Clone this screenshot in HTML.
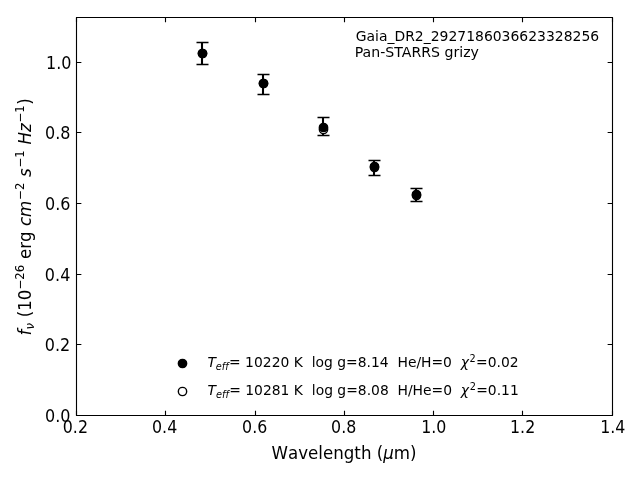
<!DOCTYPE html>
<html><head><meta charset="utf-8"><title>SED plot</title>
<style>svg{will-change:transform}html,body{margin:0;padding:0;background:#fff;width:640px;height:480px;overflow:hidden}</style>
</head><body>
<svg width="640" height="480" viewBox="0 0 640 480" style="display:block">
<rect width="640" height="480" fill="#fff"/>
<path d="M76.5 17.5V415.5M612.5 17.5V415.5M76.5 17.5H612.5M76.5 415.5H612.5" fill="none" stroke="#000" stroke-width="1.1111" stroke-linecap="square"/>
<path d="M76.5 415.5V410.6389M76.5 17.5V22.3611M165.5 415.5V410.6389M165.5 17.5V22.3611M255.5 415.5V410.6389M255.5 17.5V22.3611M344.5 415.5V410.6389M344.5 17.5V22.3611M433.5 415.5V410.6389M433.5 17.5V22.3611M522.5 415.5V410.6389M522.5 17.5V22.3611M612.5 415.5V410.6389M612.5 17.5V22.3611M76.5 415.5H81.3611M612.5 415.5H607.6389M76.5 344.5H81.3611M612.5 344.5H607.6389M76.5 274.5H81.3611M612.5 274.5H607.6389M76.5 203.5H81.3611M612.5 203.5H607.6389M76.5 132.5H81.3611M612.5 132.5H607.6389M76.5 62.5H81.3611M612.5 62.5H607.6389" fill="none" stroke="#000" stroke-width="1.1111"/>
<path d="M202 42.5V64.5M263 74.5V94.5M323 117.5V135.5M374 160.5V175.5M416 188.5V201.5" fill="none" stroke="#000" stroke-width="2.0833"/>
<path d="M196.5 42.5H208.5M196.5 64.5H208.5M257.5 74.5H269.5M257.5 94.5H269.5M317.5 117.5H329.5M317.5 135.5H329.5M368.5 160.5H380.5M368.5 175.5H380.5M410.5 188.5H422.5M410.5 201.5H422.5" fill="none" stroke="#000" stroke-width="1.3889"/>
<circle cx="202.5" cy="53.5" r="4.1667" fill="#fff" stroke="#000" stroke-width="1.3889"/>
<circle cx="263.5" cy="83.5" r="4.1667" fill="#fff" stroke="#000" stroke-width="1.3889"/>
<circle cx="323.5" cy="129.5" r="4.1667" fill="#fff" stroke="#000" stroke-width="1.3889"/>
<circle cx="374.5" cy="167.5" r="4.1667" fill="#fff" stroke="#000" stroke-width="1.3889"/>
<circle cx="416.5" cy="195.5" r="4.1667" fill="#fff" stroke="#000" stroke-width="1.3889"/>
<circle cx="202.5" cy="53.5" r="4.1667" fill="#000" stroke="#000" stroke-width="1.3889"/>
<circle cx="263.5" cy="83.5" r="4.1667" fill="#000" stroke="#000" stroke-width="1.3889"/>
<circle cx="323.5" cy="127.5" r="4.1667" fill="#000" stroke="#000" stroke-width="1.3889"/>
<circle cx="374.5" cy="166.5" r="4.1667" fill="#000" stroke="#000" stroke-width="1.3889"/>
<circle cx="416.5" cy="194.5" r="4.1667" fill="#000" stroke="#000" stroke-width="1.3889"/>
<circle cx="182.5" cy="363.5" r="4.1667" fill="#000" stroke="#000" stroke-width="1.3889"/>
<circle cx="182.5" cy="391.5" r="4.1667" fill="#fff" stroke="#000" stroke-width="1.3889"/>
<g transform="scale(1.3888889)">
<g transform="translate(0.0000 0.0000)">
<text style="font-size: 12px; font-family: 'DejaVu Sans', 'Liberation Sans', sans-serif; text-anchor: middle" x="54.642" y="311.118125" transform="translate(54.2734 311.6423) scale(0.9500 1.0700) translate(-54.6420 -311.1181)">0.2</text>
</g>

<g transform="translate(0.0000 0.0000)">
<text style="font-size: 12px; font-family: 'DejaVu Sans', 'Liberation Sans', sans-serif; text-anchor: middle" x="118.9525" y="311.118125" transform="translate(118.5205 311.7056) scale(0.9500 1.0700) translate(-118.9525 -311.1181)">0.4</text>
</g>

<g transform="translate(0.0000 0.0000)">
<text style="font-size: 12px; font-family: 'DejaVu Sans', 'Liberation Sans', sans-serif; text-anchor: middle" x="183.263" y="311.118125" transform="translate(183.3955 311.7632) scale(0.9500 1.0700) translate(-183.2630 -311.1181)">0.6</text>
</g>

<g transform="translate(0.0000 0.0000)">
<text style="font-size: 12px; font-family: 'DejaVu Sans', 'Liberation Sans', sans-serif; text-anchor: middle" x="247.5735" y="311.118125" transform="translate(247.4410 311.7172) scale(0.9500 1.0700) translate(-247.5735 -311.1181)">0.8</text>
</g>

<g transform="translate(0.0000 0.0000)">
<text style="font-size: 12px; font-family: 'DejaVu Sans', 'Liberation Sans', sans-serif; text-anchor: middle" x="311.884" y="311.118125" transform="translate(312.2987 311.6826) scale(0.9500 1.0700) translate(-311.8840 -311.1181)">1.0</text>
</g>

<g transform="translate(0.0000 0.0000)">
<text style="font-size: 12px; font-family: 'DejaVu Sans', 'Liberation Sans', sans-serif; text-anchor: middle" x="376.1945" y="311.118125" transform="translate(376.3039 311.6480) scale(0.9500 1.0700) translate(-376.1945 -311.1181)">1.2</text>
</g>

<g transform="translate(0.0000 0.0000)">
<text style="font-size: 12px; font-family: 'DejaVu Sans', 'Liberation Sans', sans-serif; text-anchor: middle" x="440.505" y="311.118125" transform="translate(441.1616 311.6308) scale(0.9500 1.0700) translate(-440.5050 -311.1181)">1.4</text>
</g>

<g transform="translate(0.1800 4.5072)">
<g transform="translate(195.3135 326.73375) scale(1.0000 1.0600)">
<text>
<tspan x="0" y="-0.875" style="font-size: 12px; font-family: 'DejaVu Sans', 'Liberation Sans', sans-serif">W</tspan>
<tspan x="11.865234" y="-0.875" style="font-size: 12px; font-family: 'DejaVu Sans', 'Liberation Sans', sans-serif">a</tspan>
<tspan x="19.21875" y="-0.875" style="font-size: 12px; font-family: 'DejaVu Sans', 'Liberation Sans', sans-serif">v</tspan>
<tspan x="26.320312" y="-0.875" style="font-size: 12px; font-family: 'DejaVu Sans', 'Liberation Sans', sans-serif">e</tspan>
<tspan x="33.703125" y="-0.875" style="font-size: 12px; font-family: 'DejaVu Sans', 'Liberation Sans', sans-serif">l</tspan>
<tspan x="37.037109" y="-0.875" style="font-size: 12px; font-family: 'DejaVu Sans', 'Liberation Sans', sans-serif">e</tspan>
<tspan x="44.419922" y="-0.875" style="font-size: 12px; font-family: 'DejaVu Sans', 'Liberation Sans', sans-serif">n</tspan>
<tspan x="52.025391" y="-0.875" style="font-size: 12px; font-family: 'DejaVu Sans', 'Liberation Sans', sans-serif">g</tspan>
<tspan x="59.642578" y="-0.875" style="font-size: 12px; font-family: 'DejaVu Sans', 'Liberation Sans', sans-serif">t</tspan>
<tspan x="64.347656" y="-0.875" style="font-size: 12px; font-family: 'DejaVu Sans', 'Liberation Sans', sans-serif">h</tspan>
<tspan x="71.953125" y="-0.875" style="font-size: 12px; font-family: 'DejaVu Sans', 'Liberation Sans', sans-serif"> </tspan>
<tspan x="75.767578" y="-0.875" style="font-size: 12px; font-family: 'DejaVu Sans', 'Liberation Sans', sans-serif">(</tspan>
<tspan x="88.083984" y="-0.875" style="font-size: 12px; font-family: 'DejaVu Sans', 'Liberation Sans', sans-serif">m</tspan>
<tspan x="99.773438" y="-0.875" style="font-size: 12px; font-family: 'DejaVu Sans', 'Liberation Sans', sans-serif">)</tspan>
<tspan x="80.449219" y="-0.875" style="font-style: oblique; font-size: 12px; font-family: 'DejaVu Sans', 'Liberation Sans', sans-serif">μ</tspan>
</text>
</g>
</g>

<g transform="translate(0.0000 0.0000)">
<text style="font-size: 12px; font-family: 'DejaVu Sans', 'Liberation Sans', sans-serif; text-anchor: end" x="51.142" y="303.059062" transform="translate(50.7935 303.5602) scale(0.9600 1.0700) translate(-51.1420 -303.0591)">0.0</text>
</g>

<g transform="translate(0.0000 0.0000)">
<text style="font-size: 12px; font-family: 'DejaVu Sans', 'Liberation Sans', sans-serif; text-anchor: end" x="51.142" y="252.281256" transform="translate(50.5228 252.7133) scale(0.9600 1.0700) translate(-51.1420 -252.2813)">0.2</text>
</g>

<g transform="translate(0.0000 0.0000)">
<text style="font-size: 12px; font-family: 'DejaVu Sans', 'Liberation Sans', sans-serif; text-anchor: end" x="51.142" y="201.503449" transform="translate(50.6322 202.5230) scale(0.9600 1.0700) translate(-51.1420 -201.5034)">0.4</text>
</g>

<g transform="translate(0.0000 0.0000)">
<text style="font-size: 12px; font-family: 'DejaVu Sans', 'Liberation Sans', sans-serif; text-anchor: end" x="51.142" y="150.725643" transform="translate(50.7129 151.2268) scale(0.9600 1.0700) translate(-51.1420 -150.7256)">0.6</text>
</g>

<g transform="translate(0.0000 0.0000)">
<text style="font-size: 12px; font-family: 'DejaVu Sans', 'Liberation Sans', sans-serif; text-anchor: end" x="51.142" y="99.947836" transform="translate(50.7014 100.4029) scale(0.9600 1.0700) translate(-51.1420 -99.9478)">0.8</text>
</g>

<g transform="translate(0.0000 0.0000)">
<text style="font-size: 12px; font-family: 'DejaVu Sans', 'Liberation Sans', sans-serif; text-anchor: end" x="51.142" y="49.170029" transform="translate(51.5020 49.5790) scale(0.9600 1.0700) translate(-51.1420 -49.1700)">1.0</text>
</g>

<g transform="translate(-3.1680 0.7488)">
<g transform="translate(25.53825 240.750058) rotate(-90) scale(1.0000 1.0300)">
<text>
<tspan x="0" y="-0.171875" style="font-style: oblique; font-size: 12px; font-family: 'DejaVu Sans', 'Liberation Sans', sans-serif">f</tspan>
<tspan x="78.742969" y="-0.171875" style="font-style: oblique; font-size: 12px; font-family: 'DejaVu Sans', 'Liberation Sans', sans-serif">c</tspan>
<tspan x="85.340625" y="-0.171875" style="font-style: oblique; font-size: 12px; font-family: 'DejaVu Sans', 'Liberation Sans', sans-serif">m</tspan>
<tspan x="114.113086" y="-0.171875" style="font-style: oblique; font-size: 12px; font-family: 'DejaVu Sans', 'Liberation Sans', sans-serif">s</tspan>
<tspan x="137.448047" y="-0.171875" style="font-style: oblique; font-size: 12px; font-family: 'DejaVu Sans', 'Liberation Sans', sans-serif">H</tspan>
<tspan x="146.471484" y="-0.171875" style="font-style: oblique; font-size: 12px; font-family: 'DejaVu Sans', 'Liberation Sans', sans-serif">z</tspan>
<tspan x="4.224609" y="1.796875" style="font-style: oblique; font-size: 8.4px; font-family: 'DejaVu Sans', 'Liberation Sans', sans-serif">ν</tspan>
<tspan x="9.244922" y="-0.171875" style="font-size: 12px; font-family: 'DejaVu Sans', 'Liberation Sans', sans-serif"> </tspan>
<tspan x="13.059375" y="-0.171875" style="font-size: 12px; font-family: 'DejaVu Sans', 'Liberation Sans', sans-serif">(</tspan>
<tspan x="17.741016" y="-0.171875" style="font-size: 12px; font-family: 'DejaVu Sans', 'Liberation Sans', sans-serif">1</tspan>
<tspan x="25.375781" y="-0.171875" style="font-size: 12px; font-family: 'DejaVu Sans', 'Liberation Sans', sans-serif">0</tspan>
<tspan x="51.180469" y="-0.171875" style="font-size: 12px; font-family: 'DejaVu Sans', 'Liberation Sans', sans-serif"> </tspan>
<tspan x="54.994922" y="-0.171875" style="font-size: 12px; font-family: 'DejaVu Sans', 'Liberation Sans', sans-serif">e</tspan>
<tspan x="62.377734" y="-0.171875" style="font-size: 12px; font-family: 'DejaVu Sans', 'Liberation Sans', sans-serif">r</tspan>
<tspan x="67.311328" y="-0.171875" style="font-size: 12px; font-family: 'DejaVu Sans', 'Liberation Sans', sans-serif">g</tspan>
<tspan x="74.928516" y="-0.171875" style="font-size: 12px; font-family: 'DejaVu Sans', 'Liberation Sans', sans-serif"> </tspan>
<tspan x="110.298633" y="-0.171875" style="font-size: 12px; font-family: 'DejaVu Sans', 'Liberation Sans', sans-serif"> </tspan>
<tspan x="133.633594" y="-0.171875" style="font-size: 12px; font-family: 'DejaVu Sans', 'Liberation Sans', sans-serif"> </tspan>
<tspan x="166.016992" y="-0.171875" style="font-size: 12px; font-family: 'DejaVu Sans', 'Liberation Sans', sans-serif">)</tspan>
<tspan x="33.125391" y="-4.765625" style="font-size: 8.4px; font-family: 'DejaVu Sans', 'Liberation Sans', sans-serif">−</tspan>
<tspan x="40.163672" y="-4.765625" style="font-size: 8.4px; font-family: 'DejaVu Sans', 'Liberation Sans', sans-serif">2</tspan>
<tspan x="45.508008" y="-4.765625" style="font-size: 8.4px; font-family: 'DejaVu Sans', 'Liberation Sans', sans-serif">6</tspan>
<tspan x="97.587891" y="-4.765625" style="font-size: 8.4px; font-family: 'DejaVu Sans', 'Liberation Sans', sans-serif">−</tspan>
<tspan x="104.626172" y="-4.765625" style="font-size: 8.4px; font-family: 'DejaVu Sans', 'Liberation Sans', sans-serif">2</tspan>
<tspan x="120.922852" y="-4.765625" style="font-size: 8.4px; font-family: 'DejaVu Sans', 'Liberation Sans', sans-serif">−</tspan>
<tspan x="127.961133" y="-4.765625" style="font-size: 8.4px; font-family: 'DejaVu Sans', 'Liberation Sans', sans-serif">1</tspan>
<tspan x="153.30625" y="-4.765625" style="font-size: 8.4px; font-family: 'DejaVu Sans', 'Liberation Sans', sans-serif">−</tspan>
<tspan x="160.344531" y="-4.765625" style="font-size: 8.4px; font-family: 'DejaVu Sans', 'Liberation Sans', sans-serif">1</tspan>
</text>
</g>
</g>

<g transform="translate(-1.3752 0.4320)">
<text style="font-size: 10px; font-family: 'DejaVu Sans', 'Liberation Sans', sans-serif" transform="translate(257.5025 29.1420) scale(1.0040 1.0000)">Gaia_DR2_2927186036623328256</text>
<text style="font-size: 10px; font-family: 'DejaVu Sans', 'Liberation Sans', sans-serif" transform="translate(256.7825 40.6179) scale(1.0160 1.0000)">Pan-STARRS grizy</text>
</g>

<g transform="translate(-0.2088 -5.7240)">
<g transform="translate(149.5235 271.2) scale(1.0000 1.0000)">
<text>
<tspan x="0" y="-0.976562" style="font-style: oblique; font-size: 10px; font-family: 'DejaVu Sans', 'Liberation Sans', sans-serif">T</tspan>
<tspan x="182.386719" y="-0.976562" style="font-style: oblique; font-size: 10px; font-family: 'DejaVu Sans', 'Liberation Sans', sans-serif">χ</tspan>
<tspan x="6.108398" y="0.664062" style="font-style: oblique; font-size: 7px; font-family: 'DejaVu Sans', 'Liberation Sans', sans-serif">e</tspan>
<tspan x="10.415039" y="0.664062" style="font-style: oblique; font-size: 7px; font-family: 'DejaVu Sans', 'Liberation Sans', sans-serif">f</tspan>
<tspan x="12.879395" y="0.664062" style="font-style: oblique; font-size: 7px; font-family: 'DejaVu Sans', 'Liberation Sans', sans-serif">f</tspan>
<tspan x="15.617188" y="-0.976562" style="font-size: 10px; font-family: 'DejaVu Sans', 'Liberation Sans', sans-serif">=</tspan>
<tspan x="23.996094" y="-0.976562" style="font-size: 10px; font-family: 'DejaVu Sans', 'Liberation Sans', sans-serif"> </tspan>
<tspan x="27.174805" y="-0.976562" style="font-size: 10px; font-family: 'DejaVu Sans', 'Liberation Sans', sans-serif">1</tspan>
<tspan x="33.537109" y="-0.976562" style="font-size: 10px; font-family: 'DejaVu Sans', 'Liberation Sans', sans-serif">0</tspan>
<tspan x="39.899414" y="-0.976562" style="font-size: 10px; font-family: 'DejaVu Sans', 'Liberation Sans', sans-serif">2</tspan>
<tspan x="46.261719" y="-0.976562" style="font-size: 10px; font-family: 'DejaVu Sans', 'Liberation Sans', sans-serif">2</tspan>
<tspan x="52.624023" y="-0.976562" style="font-size: 10px; font-family: 'DejaVu Sans', 'Liberation Sans', sans-serif">0</tspan>
<tspan x="58.986328" y="-0.976562" style="font-size: 10px; font-family: 'DejaVu Sans', 'Liberation Sans', sans-serif"> </tspan>
<tspan x="62.165039" y="-0.976562" style="font-size: 10px; font-family: 'DejaVu Sans', 'Liberation Sans', sans-serif">K</tspan>
<tspan x="68.722656" y="-0.976562" style="font-size: 10px; font-family: 'DejaVu Sans', 'Liberation Sans', sans-serif"> </tspan>
<tspan x="71.901367" y="-0.976562" style="font-size: 10px; font-family: 'DejaVu Sans', 'Liberation Sans', sans-serif"> </tspan>
<tspan x="75.080078" y="-0.976562" style="font-size: 10px; font-family: 'DejaVu Sans', 'Liberation Sans', sans-serif">l</tspan>
<tspan x="77.858398" y="-0.976562" style="font-size: 10px; font-family: 'DejaVu Sans', 'Liberation Sans', sans-serif">o</tspan>
<tspan x="83.976562" y="-0.976562" style="font-size: 10px; font-family: 'DejaVu Sans', 'Liberation Sans', sans-serif">g</tspan>
<tspan x="90.324219" y="-0.976562" style="font-size: 10px; font-family: 'DejaVu Sans', 'Liberation Sans', sans-serif"> </tspan>
<tspan x="93.50293" y="-0.976562" style="font-size: 10px; font-family: 'DejaVu Sans', 'Liberation Sans', sans-serif">g</tspan>
<tspan x="99.850586" y="-0.976562" style="font-size: 10px; font-family: 'DejaVu Sans', 'Liberation Sans', sans-serif">=</tspan>
<tspan x="108.229492" y="-0.976562" style="font-size: 10px; font-family: 'DejaVu Sans', 'Liberation Sans', sans-serif">8</tspan>
<tspan x="114.591797" y="-0.976562" style="font-size: 10px; font-family: 'DejaVu Sans', 'Liberation Sans', sans-serif">.</tspan>
<tspan x="117.770508" y="-0.976562" style="font-size: 10px; font-family: 'DejaVu Sans', 'Liberation Sans', sans-serif">1</tspan>
<tspan x="124.132812" y="-0.976562" style="font-size: 10px; font-family: 'DejaVu Sans', 'Liberation Sans', sans-serif">4</tspan>
<tspan x="130.495117" y="-0.976562" style="font-size: 10px; font-family: 'DejaVu Sans', 'Liberation Sans', sans-serif"> </tspan>
<tspan x="133.673828" y="-0.976562" style="font-size: 10px; font-family: 'DejaVu Sans', 'Liberation Sans', sans-serif"> </tspan>
<tspan x="136.852539" y="-0.976562" style="font-size: 10px; font-family: 'DejaVu Sans', 'Liberation Sans', sans-serif">H</tspan>
<tspan x="144.37207" y="-0.976562" style="font-size: 10px; font-family: 'DejaVu Sans', 'Liberation Sans', sans-serif">e</tspan>
<tspan x="150.524414" y="-0.976562" style="font-size: 10px; font-family: 'DejaVu Sans', 'Liberation Sans', sans-serif">/</tspan>
<tspan x="153.768555" y="-0.976562" style="font-size: 10px; font-family: 'DejaVu Sans', 'Liberation Sans', sans-serif">H</tspan>
<tspan x="161.288086" y="-0.976562" style="font-size: 10px; font-family: 'DejaVu Sans', 'Liberation Sans', sans-serif">=</tspan>
<tspan x="169.666992" y="-0.976562" style="font-size: 10px; font-family: 'DejaVu Sans', 'Liberation Sans', sans-serif">0</tspan>
<tspan x="176.029297" y="-0.976562" style="font-size: 10px; font-family: 'DejaVu Sans', 'Liberation Sans', sans-serif"> </tspan>
<tspan x="179.208008" y="-0.976562" style="font-size: 10px; font-family: 'DejaVu Sans', 'Liberation Sans', sans-serif"> </tspan>
<tspan x="193.478353" y="-0.976562" style="font-size: 10px; font-family: 'DejaVu Sans', 'Liberation Sans', sans-serif">=</tspan>
<tspan x="201.857259" y="-0.976562" style="font-size: 10px; font-family: 'DejaVu Sans', 'Liberation Sans', sans-serif">0</tspan>
<tspan x="208.219564" y="-0.976562" style="font-size: 10px; font-family: 'DejaVu Sans', 'Liberation Sans', sans-serif">.</tspan>
<tspan x="211.398275" y="-0.976562" style="font-size: 10px; font-family: 'DejaVu Sans', 'Liberation Sans', sans-serif">0</tspan>
<tspan x="217.760579" y="-0.976562" style="font-size: 10px; font-family: 'DejaVu Sans', 'Liberation Sans', sans-serif">2</tspan>
<tspan x="188.751302" y="-4.804688" style="font-size: 7px; font-family: 'DejaVu Sans', 'Liberation Sans', sans-serif">2</tspan>
</text>
</g>
</g>

<g transform="translate(-0.1152 -1.7784)">
<g transform="translate(149.5235 287.4) scale(1.0000 1.0000)">
<text>
<tspan x="0" y="-0.976562" style="font-style: oblique; font-size: 10px; font-family: 'DejaVu Sans', 'Liberation Sans', sans-serif">T</tspan>
<tspan x="182.386719" y="-0.976562" style="font-style: oblique; font-size: 10px; font-family: 'DejaVu Sans', 'Liberation Sans', sans-serif">χ</tspan>
<tspan x="6.108398" y="0.664062" style="font-style: oblique; font-size: 7px; font-family: 'DejaVu Sans', 'Liberation Sans', sans-serif">e</tspan>
<tspan x="10.415039" y="0.664062" style="font-style: oblique; font-size: 7px; font-family: 'DejaVu Sans', 'Liberation Sans', sans-serif">f</tspan>
<tspan x="12.879395" y="0.664062" style="font-style: oblique; font-size: 7px; font-family: 'DejaVu Sans', 'Liberation Sans', sans-serif">f</tspan>
<tspan x="15.617188" y="-0.976562" style="font-size: 10px; font-family: 'DejaVu Sans', 'Liberation Sans', sans-serif">=</tspan>
<tspan x="23.996094" y="-0.976562" style="font-size: 10px; font-family: 'DejaVu Sans', 'Liberation Sans', sans-serif"> </tspan>
<tspan x="27.174805" y="-0.976562" style="font-size: 10px; font-family: 'DejaVu Sans', 'Liberation Sans', sans-serif">1</tspan>
<tspan x="33.537109" y="-0.976562" style="font-size: 10px; font-family: 'DejaVu Sans', 'Liberation Sans', sans-serif">0</tspan>
<tspan x="39.899414" y="-0.976562" style="font-size: 10px; font-family: 'DejaVu Sans', 'Liberation Sans', sans-serif">2</tspan>
<tspan x="46.261719" y="-0.976562" style="font-size: 10px; font-family: 'DejaVu Sans', 'Liberation Sans', sans-serif">8</tspan>
<tspan x="52.624023" y="-0.976562" style="font-size: 10px; font-family: 'DejaVu Sans', 'Liberation Sans', sans-serif">1</tspan>
<tspan x="58.986328" y="-0.976562" style="font-size: 10px; font-family: 'DejaVu Sans', 'Liberation Sans', sans-serif"> </tspan>
<tspan x="62.165039" y="-0.976562" style="font-size: 10px; font-family: 'DejaVu Sans', 'Liberation Sans', sans-serif">K</tspan>
<tspan x="68.722656" y="-0.976562" style="font-size: 10px; font-family: 'DejaVu Sans', 'Liberation Sans', sans-serif"> </tspan>
<tspan x="71.901367" y="-0.976562" style="font-size: 10px; font-family: 'DejaVu Sans', 'Liberation Sans', sans-serif"> </tspan>
<tspan x="75.080078" y="-0.976562" style="font-size: 10px; font-family: 'DejaVu Sans', 'Liberation Sans', sans-serif">l</tspan>
<tspan x="77.858398" y="-0.976562" style="font-size: 10px; font-family: 'DejaVu Sans', 'Liberation Sans', sans-serif">o</tspan>
<tspan x="83.976562" y="-0.976562" style="font-size: 10px; font-family: 'DejaVu Sans', 'Liberation Sans', sans-serif">g</tspan>
<tspan x="90.324219" y="-0.976562" style="font-size: 10px; font-family: 'DejaVu Sans', 'Liberation Sans', sans-serif"> </tspan>
<tspan x="93.50293" y="-0.976562" style="font-size: 10px; font-family: 'DejaVu Sans', 'Liberation Sans', sans-serif">g</tspan>
<tspan x="99.850586" y="-0.976562" style="font-size: 10px; font-family: 'DejaVu Sans', 'Liberation Sans', sans-serif">=</tspan>
<tspan x="108.229492" y="-0.976562" style="font-size: 10px; font-family: 'DejaVu Sans', 'Liberation Sans', sans-serif">8</tspan>
<tspan x="114.591797" y="-0.976562" style="font-size: 10px; font-family: 'DejaVu Sans', 'Liberation Sans', sans-serif">.</tspan>
<tspan x="117.770508" y="-0.976562" style="font-size: 10px; font-family: 'DejaVu Sans', 'Liberation Sans', sans-serif">0</tspan>
<tspan x="124.132812" y="-0.976562" style="font-size: 10px; font-family: 'DejaVu Sans', 'Liberation Sans', sans-serif">8</tspan>
<tspan x="130.495117" y="-0.976562" style="font-size: 10px; font-family: 'DejaVu Sans', 'Liberation Sans', sans-serif"> </tspan>
<tspan x="133.673828" y="-0.976562" style="font-size: 10px; font-family: 'DejaVu Sans', 'Liberation Sans', sans-serif"> </tspan>
<tspan x="136.852539" y="-0.976562" style="font-size: 10px; font-family: 'DejaVu Sans', 'Liberation Sans', sans-serif">H</tspan>
<tspan x="144.37207" y="-0.976562" style="font-size: 10px; font-family: 'DejaVu Sans', 'Liberation Sans', sans-serif">/</tspan>
<tspan x="147.616211" y="-0.976562" style="font-size: 10px; font-family: 'DejaVu Sans', 'Liberation Sans', sans-serif">H</tspan>
<tspan x="155.135742" y="-0.976562" style="font-size: 10px; font-family: 'DejaVu Sans', 'Liberation Sans', sans-serif">e</tspan>
<tspan x="161.288086" y="-0.976562" style="font-size: 10px; font-family: 'DejaVu Sans', 'Liberation Sans', sans-serif">=</tspan>
<tspan x="169.666992" y="-0.976562" style="font-size: 10px; font-family: 'DejaVu Sans', 'Liberation Sans', sans-serif">0</tspan>
<tspan x="176.029297" y="-0.976562" style="font-size: 10px; font-family: 'DejaVu Sans', 'Liberation Sans', sans-serif"> </tspan>
<tspan x="179.208008" y="-0.976562" style="font-size: 10px; font-family: 'DejaVu Sans', 'Liberation Sans', sans-serif"> </tspan>
<tspan x="193.478353" y="-0.976562" style="font-size: 10px; font-family: 'DejaVu Sans', 'Liberation Sans', sans-serif">=</tspan>
<tspan x="201.857259" y="-0.976562" style="font-size: 10px; font-family: 'DejaVu Sans', 'Liberation Sans', sans-serif">0</tspan>
<tspan x="208.219564" y="-0.976562" style="font-size: 10px; font-family: 'DejaVu Sans', 'Liberation Sans', sans-serif">.</tspan>
<tspan x="211.398275" y="-0.976562" style="font-size: 10px; font-family: 'DejaVu Sans', 'Liberation Sans', sans-serif">1</tspan>
<tspan x="217.760579" y="-0.976562" style="font-size: 10px; font-family: 'DejaVu Sans', 'Liberation Sans', sans-serif">1</tspan>
<tspan x="188.751302" y="-4.804688" style="font-size: 7px; font-family: 'DejaVu Sans', 'Liberation Sans', sans-serif">2</tspan>
</text>
</g>
</g>

</g>
</svg>
</body></html>
